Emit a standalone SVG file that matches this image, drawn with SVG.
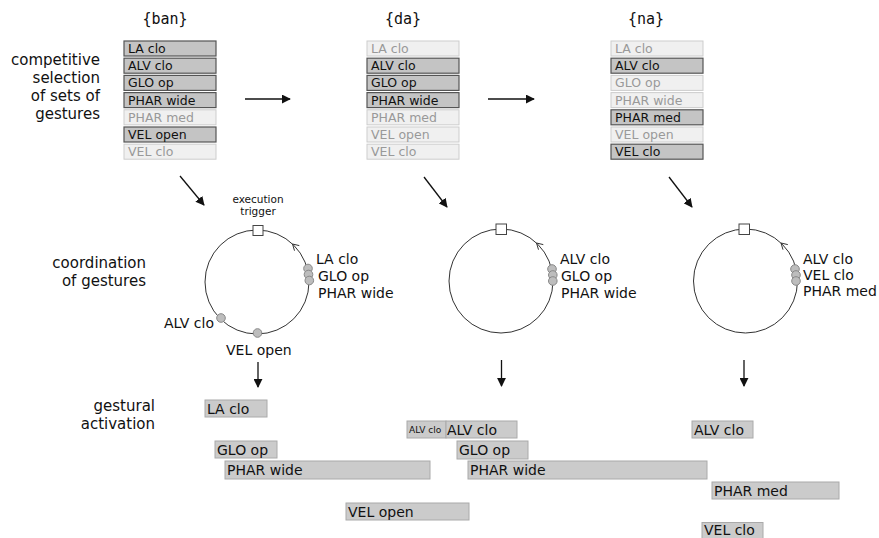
<svg xmlns="http://www.w3.org/2000/svg" width="879" height="538" viewBox="0 0 879 538">
<style>
text{font-family:"DejaVu Sans",Verdana,sans-serif;fill:#111}
.title{font-family:"DejaVu Sans Mono",monospace;font-size:15px}
.lbl{font-size:15px;text-anchor:end}
.on rect{fill:#c4c4c4;stroke:#555;stroke-width:1.2}
.on text{font-size:12.5px;fill:#111}
.off rect{fill:#f0f0f0;stroke:#cdcdcd;stroke-width:1}
.off text{font-size:12.5px;fill:#999}
.bar rect{fill:#cbcbcb;stroke:#aaa;stroke-width:1}
.bar text{font-size:14px}
.cl{font-size:14px}
.ring{fill:none;stroke:#333;stroke-width:1}
.trig{fill:#fff;stroke:#444;stroke-width:1}
.dot{fill:#bdbdbd;stroke:#888;stroke-width:1}
.conn line{stroke:#111;stroke-width:1.3}
.chev{fill:none;stroke:#333;stroke-width:1}
</style>
<defs>
<marker id="ah2" viewBox="0 0 10 10" refX="9" refY="5" markerWidth="9" markerHeight="9" orient="auto" markerUnits="userSpaceOnUse">
<path d="M0,0 L10,5 L0,10 z" fill="#111"/>
</marker>
</defs>

<!-- row labels -->
<g id="label-selection">
<text class="lbl" x="100" y="65">competitive</text>
<text class="lbl" x="100" y="83">selection</text>
<text class="lbl" x="100" y="101">of sets of</text>
<text class="lbl" x="100" y="119">gestures</text>
</g>
<g id="label-coordination">
<text class="lbl" x="146" y="268">coordination</text>
<text class="lbl" x="146" y="286">of gestures</text>
</g>
<g id="label-activation">
<text class="lbl" x="155" y="411">gestural</text>
<text class="lbl" x="155" y="429">activation</text>
</g>

<!-- column 1: {ban} -->
<g id="set-ban">
<text class="title" x="165" y="24" text-anchor="middle">{ban}</text>
<g class="on"><rect x="124" y="41" width="92" height="15"/><text x="128" y="53">LA clo</text></g>
<g class="on"><rect x="124" y="58.2" width="92" height="15"/><text x="128" y="70.2">ALV clo</text></g>
<g class="on"><rect x="124" y="75.4" width="92" height="15"/><text x="128" y="87.4">GLO op</text></g>
<g class="on"><rect x="124" y="92.6" width="92" height="15"/><text x="128" y="104.6">PHAR wide</text></g>
<g class="off"><rect x="124" y="109.8" width="92" height="15"/><text x="128" y="121.8">PHAR med</text></g>
<g class="on"><rect x="124" y="127" width="92" height="15"/><text x="128" y="139">VEL open</text></g>
<g class="off"><rect x="124" y="144.2" width="92" height="15"/><text x="128" y="156.2">VEL clo</text></g>
</g>

<!-- column 2: {da} -->
<g id="set-da">
<text class="title" x="403" y="24" text-anchor="middle">{da}</text>
<g class="off"><rect x="367" y="41" width="92" height="15"/><text x="371" y="53">LA clo</text></g>
<g class="on"><rect x="367" y="58.2" width="92" height="15"/><text x="371" y="70.2">ALV clo</text></g>
<g class="on"><rect x="367" y="75.4" width="92" height="15"/><text x="371" y="87.4">GLO op</text></g>
<g class="on"><rect x="367" y="92.6" width="92" height="15"/><text x="371" y="104.6">PHAR wide</text></g>
<g class="off"><rect x="367" y="109.8" width="92" height="15"/><text x="371" y="121.8">PHAR med</text></g>
<g class="off"><rect x="367" y="127" width="92" height="15"/><text x="371" y="139">VEL open</text></g>
<g class="off"><rect x="367" y="144.2" width="92" height="15"/><text x="371" y="156.2">VEL clo</text></g>
</g>

<!-- column 3: {na} -->
<g id="set-na">
<text class="title" x="646" y="24" text-anchor="middle">{na}</text>
<g class="off"><rect x="611" y="41" width="92" height="15"/><text x="615" y="53">LA clo</text></g>
<g class="on"><rect x="611" y="58.2" width="92" height="15"/><text x="615" y="70.2">ALV clo</text></g>
<g class="off"><rect x="611" y="75.4" width="92" height="15"/><text x="615" y="87.4">GLO op</text></g>
<g class="off"><rect x="611" y="92.6" width="92" height="15"/><text x="615" y="104.6">PHAR wide</text></g>
<g class="on"><rect x="611" y="109.8" width="92" height="15"/><text x="615" y="121.8">PHAR med</text></g>
<g class="off"><rect x="611" y="127" width="92" height="15"/><text x="615" y="139">VEL open</text></g>
<g class="on"><rect x="611" y="144.2" width="92" height="15"/><text x="615" y="156.2">VEL clo</text></g>
</g>

<!-- coordination 1 -->
<g id="coord-ban">
<text x="258" y="203" font-size="10.5" text-anchor="middle">execution</text>
<text x="258" y="215" font-size="10.5" text-anchor="middle">trigger</text>
<circle class="ring" cx="257" cy="282" r="52"/>
<rect class="trig" x="253" y="225.5" width="10" height="10"/>
<path class="chev" d="M294.5,250.7 L292.5,244 L299.3,245.6"/>
<circle class="dot" cx="308" cy="268.5" r="4.3"/>
<circle class="dot" cx="308.5" cy="274.5" r="4.3"/>
<circle class="dot" cx="309.3" cy="280.5" r="4.3"/>
<circle class="dot" cx="221" cy="318" r="4.3"/>
<circle class="dot" cx="257.5" cy="333" r="4.3"/>
<text class="cl" x="316" y="264">LA clo</text>
<text class="cl" x="318" y="281">GLO op</text>
<text class="cl" x="318" y="298">PHAR wide</text>
<text class="cl" x="214" y="328" text-anchor="end">ALV clo</text>
<text class="cl" x="226" y="355">VEL open</text>
</g>

<!-- coordination 2 -->
<g id="coord-da">
<circle class="ring" cx="501" cy="281" r="52"/>
<rect class="trig" x="496" y="224" width="10.5" height="10.5"/>
<path class="chev" d="M538.5,249.7 L536.5,243 L543.3,244.6"/>
<circle class="dot" cx="552" cy="269" r="4.3"/>
<circle class="dot" cx="552.8" cy="275" r="4.3"/>
<circle class="dot" cx="552.8" cy="281" r="4.3"/>
<text class="cl" x="560" y="264">ALV clo</text>
<text class="cl" x="561" y="281">GLO op</text>
<text class="cl" x="561" y="298">PHAR wide</text>
</g>

<!-- coordination 3 -->
<g id="coord-na">
<circle class="ring" cx="745.5" cy="281" r="52"/>
<rect class="trig" x="739" y="224" width="10.5" height="10.5"/>
<path class="chev" d="M783,249.7 L781,243 L787.8,244.6"/>
<circle class="dot" cx="795" cy="269" r="4.3"/>
<circle class="dot" cx="796" cy="275" r="4.3"/>
<circle class="dot" cx="796" cy="281" r="4.3"/>
<text class="cl" x="803" y="264">ALV clo</text>
<text class="cl" x="803" y="280">VEL clo</text>
<text class="cl" x="803" y="296">PHAR med</text>
</g>

<!-- activation 1 -->
<g id="act-ban">
<g class="bar"><rect x="205" y="400" width="62" height="17"/><text x="207" y="414">LA clo</text></g>
<g class="bar"><rect x="215" y="441" width="62" height="17"/><text x="217" y="455">GLO op</text></g>
<g class="bar"><rect x="225" y="461" width="205" height="18"/><text x="227" y="475">PHAR wide</text></g>
<g class="bar"><rect x="346" y="503" width="123" height="17"/><text x="348" y="517">VEL open</text></g>
</g>

<!-- activation 2 -->
<g id="act-da">
<g class="bar"><rect x="407" y="421" width="39" height="17"/><text x="409" y="433" style="font-size:9px">ALV clo</text></g>
<g class="bar"><rect x="446" y="421" width="71" height="17"/><text x="447" y="435">ALV clo</text></g>
<g class="bar"><rect x="457" y="441" width="71" height="18"/><text x="459" y="455">GLO op</text></g>
<g class="bar"><rect x="468" y="461" width="239" height="18"/><text x="470" y="475">PHAR wide</text></g>
</g>

<!-- activation 3 -->
<g id="act-na">
<g class="bar"><rect x="692" y="421" width="61" height="17"/><text x="694" y="435">ALV clo</text></g>
<g class="bar"><rect x="712" y="482" width="127" height="17"/><text x="714" y="496">PHAR med</text></g>
<g class="bar"><rect x="702" y="522.5" width="61" height="16"/><text x="704" y="534.5">VEL clo</text></g>
</g>

<!-- connectors -->
<g id="connectors" class="conn">
<line x1="245" y1="99" x2="290" y2="99" marker-end="url(#ah2)"/>
<line x1="488" y1="99" x2="534" y2="99" marker-end="url(#ah2)"/>
<line x1="180" y1="176" x2="204" y2="205" marker-end="url(#ah2)"/>
<line x1="424" y1="177" x2="447" y2="207" marker-end="url(#ah2)"/>
<line x1="669" y1="177" x2="692" y2="207" marker-end="url(#ah2)"/>
<line x1="258" y1="362" x2="258" y2="387" marker-end="url(#ah2)"/>
<line x1="501.5" y1="360" x2="501.5" y2="386" marker-end="url(#ah2)"/>
<line x1="744" y1="360" x2="744" y2="386" marker-end="url(#ah2)"/>
</g>
</svg>
